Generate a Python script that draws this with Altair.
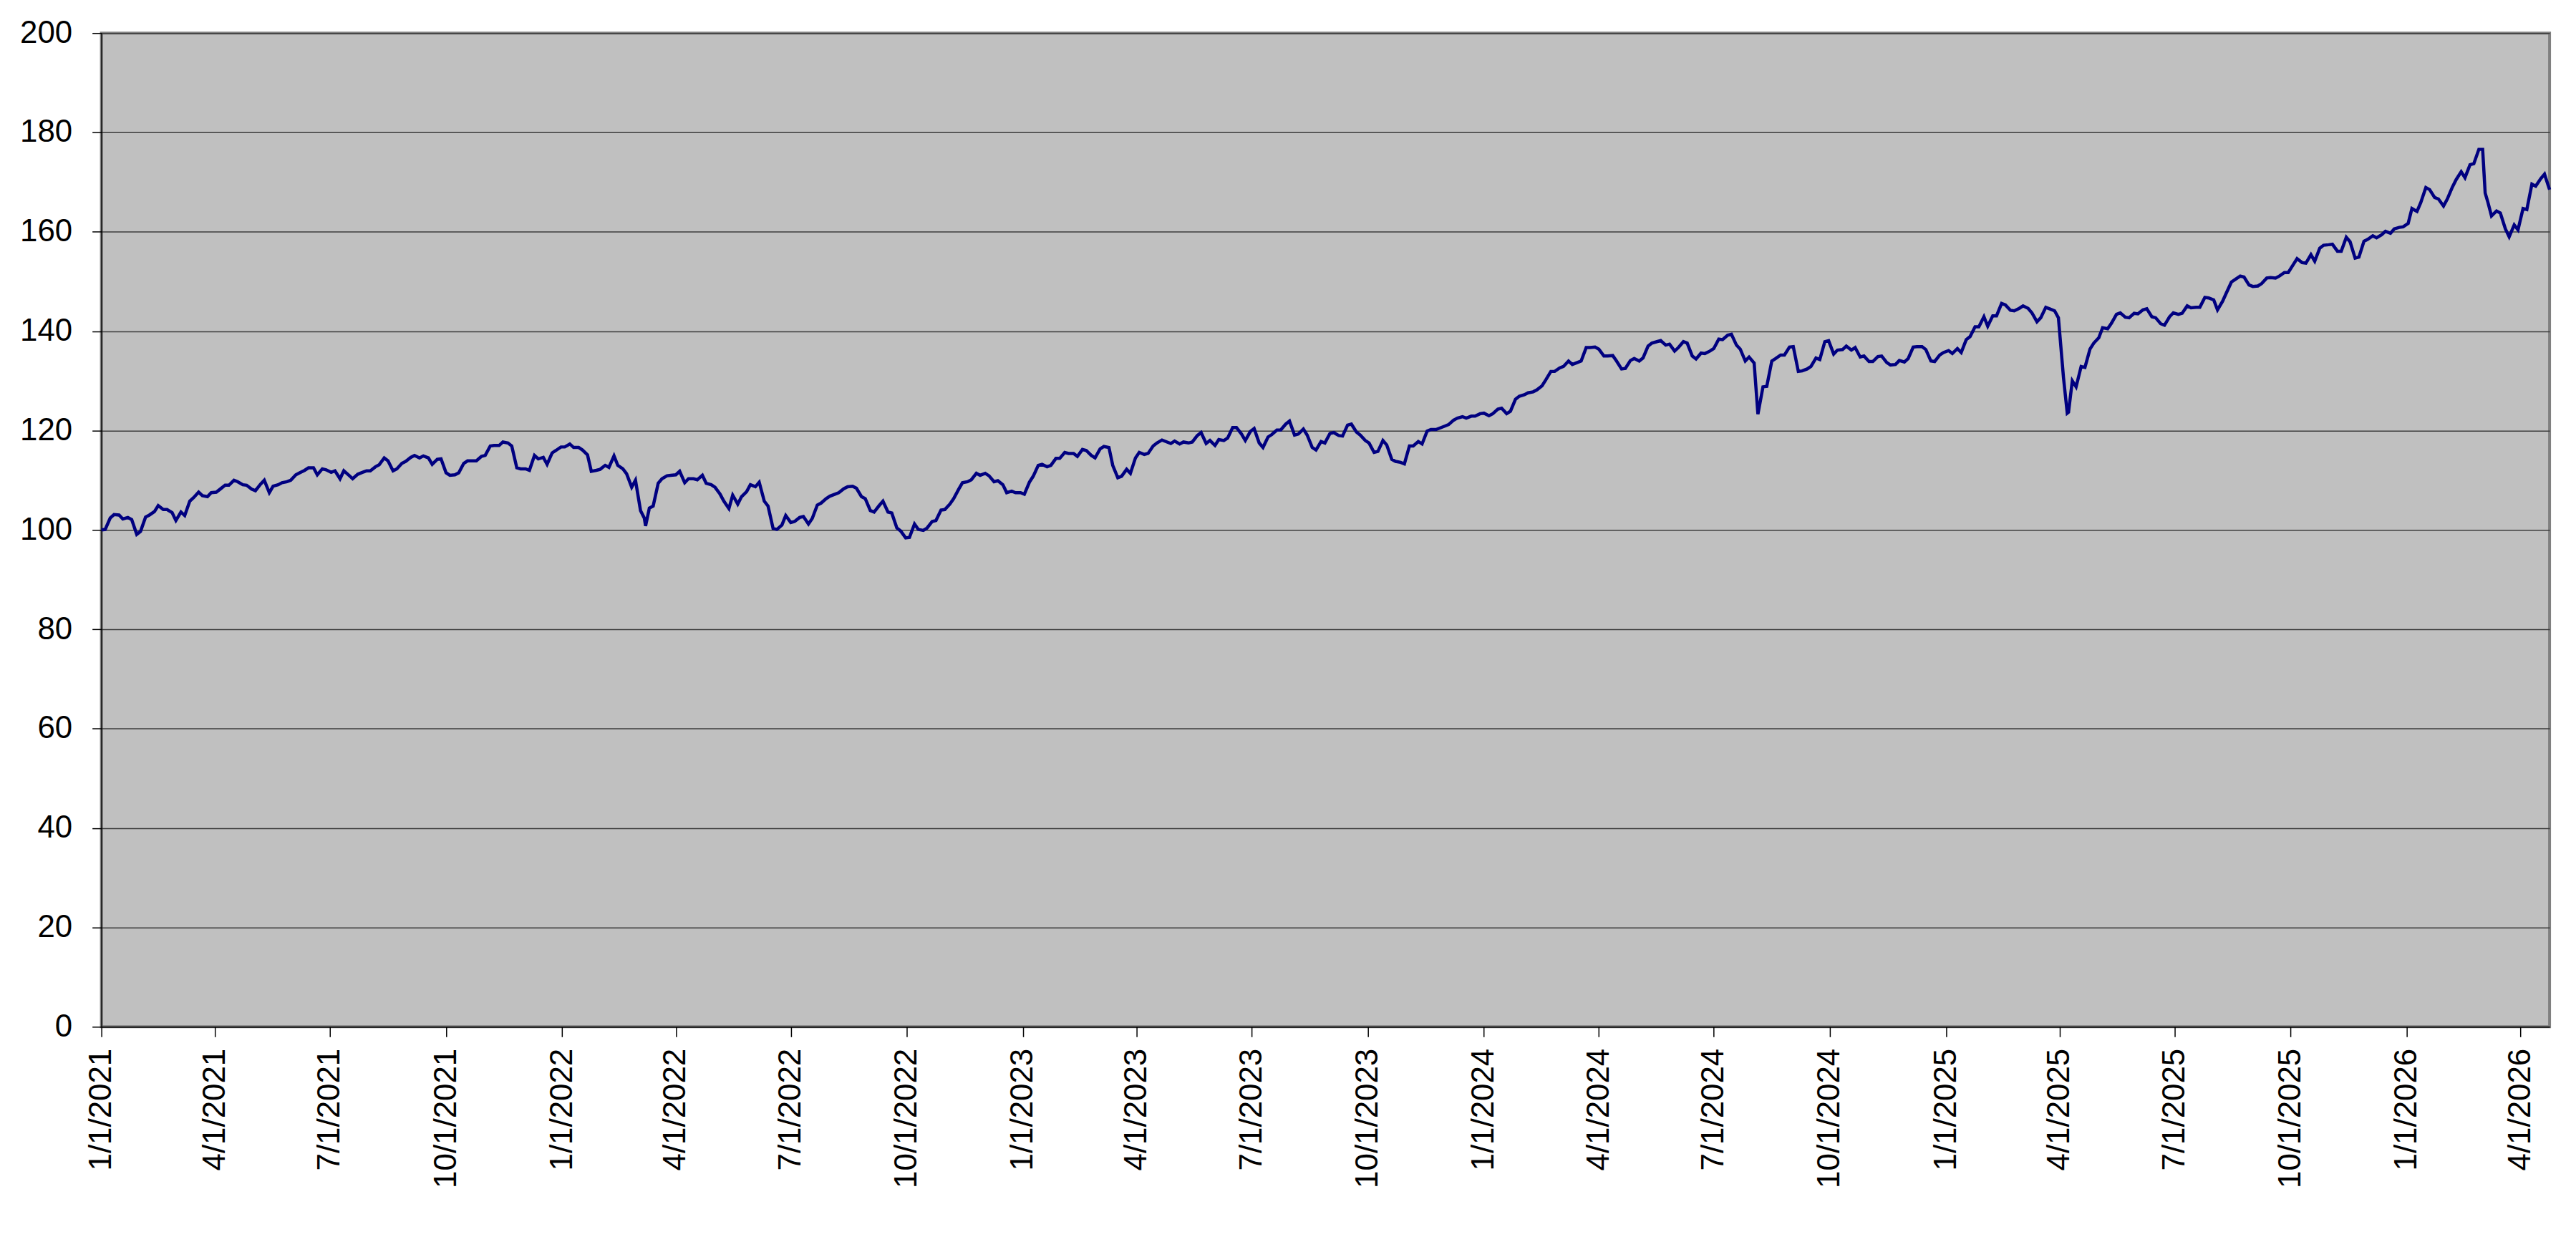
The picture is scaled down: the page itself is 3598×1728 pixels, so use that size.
import altair as alt
import pandas as pd

# readings every Friday, starting 2021-01-01
friday_start = "2021-01-01"
friday_values = [
    100.0, 102.4, 103.0, 102.5, 99.1, 102.6, 103.7, 104.1, 103.5, 103.6,
    105.8, 107.6, 106.7, 107.6, 109.0, 110.0, 109.1, 108.2, 109.2, 107.5,
    109.1, 109.7, 111.1, 112.0, 112.5, 112.3, 111.6, 110.3, 111.0, 111.2,
    111.9, 112.7, 114.5, 111.9, 113.4, 114.6, 114.5, 114.5, 114.2, 111.5,
    111.1, 113.4, 113.9, 114.8, 116.9, 117.0, 117.5, 112.5, 112.3, 115.0,
    114.6, 115.5, 116.7, 117.3, 116.6, 115.1, 112.0, 113.0, 114.9, 112.3,
    108.6, 103.9, 104.4, 109.4, 110.9, 111.1, 109.5, 110.3, 111.0, 109.1,
    107.2, 104.3, 105.2, 107.7, 108.7, 105.8, 100.3, 101.0, 101.5, 102.5,
    101.2, 105.0, 106.3, 107.2, 108.3, 108.8, 106.7, 103.9, 104.9, 103.6,
    100.4, 98.4, 101.2, 99.9, 101.7, 104.0, 105.2, 108.2, 109.7, 111.4,
    111.4, 109.7, 109.1, 107.8, 107.5, 109.6, 113.0, 112.7, 114.4, 115.6,
    115.4, 116.2, 115.0, 116.3, 116.6, 110.5, 112.2, 114.5, 115.2, 116.9,
    118.1, 117.4, 117.3, 117.5, 119.0, 117.4, 117.0, 118.0, 120.6, 119.3,
    119.8, 117.5, 118.7, 120.1, 121.3, 119.1, 120.3, 116.6, 117.8, 119.4,
    119.0, 121.1, 119.7, 118.0, 115.6, 118.0, 114.2, 113.6, 116.9, 117.8,
    119.9, 120.2, 120.9, 122.1, 122.8, 122.9, 123.4, 123.0, 124.3, 123.4,
    126.3, 127.2, 127.8, 129.0, 131.9, 132.6, 134.0, 133.7, 136.7, 136.8,
    135.0, 135.1, 132.4, 134.1, 134.0, 137.0, 137.9, 137.2, 136.0, 137.9,
    135.0, 135.6, 136.0, 138.4, 139.2, 137.2, 134.0, 133.6, 128.8, 134.0,
    135.2, 136.8, 131.9, 132.4, 134.6, 137.9, 135.4, 136.3, 136.2, 134.8,
    133.9, 134.9, 133.7, 133.3, 133.8, 136.8, 136.9, 134.0, 135.2, 136.1,
    136.5, 138.3, 140.9, 142.9, 143.1, 145.6, 144.2, 144.6, 144.6, 141.9,
    144.8, 144.1, 130.7, 130.0, 132.9, 136.4, 138.7, 140.5, 143.4, 142.8,
    143.6, 144.3, 142.9, 141.5, 142.9, 143.4, 145.1, 144.8, 146.8, 146.3,
    146.0, 149.9, 151.1, 149.3, 149.1, 150.7, 150.7, 151.8, 153.4, 153.8,
    155.4, 156.7, 157.4, 156.1, 158.9, 154.7, 158.1, 159.2, 159.4, 159.7,
    160.9, 161.7, 164.1, 168.9, 166.9, 165.2, 169.0, 172.1, 173.5, 176.6,
    166.1, 164.2, 160.6, 161.4, 164.7, 169.6, 170.7, 168.5,
]

# readings every Monday, starting 2021-01-04
monday_start = "2021-01-04"
monday_values = [
    100.1, 103.1, 102.2, 102.1, 99.7, 103.0, 104.9, 104.1, 101.9, 102.9,
    106.5, 106.9, 107.5, 108.2, 109.0, 109.7, 109.0, 107.9, 110.0, 108.8,
    109.5, 110.0, 111.5, 112.5, 111.1, 112.1, 111.9, 111.9, 110.3, 111.5,
    111.9, 113.1, 113.9, 112.3, 113.8, 115.0, 114.9, 113.2, 114.3, 111.0,
    111.5, 113.9, 113.9, 115.0, 117.0, 117.7, 116.9, 112.3, 112.0, 114.3,
    113.2, 116.0, 116.7, 116.6, 116.1, 111.8, 112.2, 112.6, 113.0, 111.3,
    110.0, 102.4, 104.8, 110.3, 111.0, 111.8, 110.3, 110.1, 109.4, 108.6,
    105.8, 107.0, 106.7, 109.1, 109.6, 104.8, 100.1, 102.9, 101.7, 102.7,
    102.3, 105.4, 106.8, 107.5, 108.7, 108.4, 106.3, 103.6, 105.8, 103.4,
    99.8, 98.5, 100.1, 100.4, 101.9, 104.1, 106.3, 109.5, 110.1, 111.0,
    110.9, 109.9, 107.5, 107.5, 107.2, 110.8, 113.2, 113.0, 114.4, 115.4,
    114.8, 116.0, 114.5, 116.8, 113.0, 110.8, 111.4, 115.6, 115.4, 117.5,
    117.8, 117.9, 117.7, 117.7, 119.6, 118.0, 118.2, 118.5, 120.6, 118.0,
    120.4, 116.6, 119.2, 120.1, 121.9, 119.3, 119.1, 116.1, 117.5, 119.6,
    118.9, 121.3, 119.1, 117.5, 115.8, 117.1, 113.8, 113.3, 116.9, 117.3,
    120.2, 120.5, 121.2, 122.5, 122.5, 122.9, 123.5, 123.4, 124.5, 123.9,
    126.9, 127.6, 128.2, 130.2, 131.9, 132.9, 133.3, 134.0, 136.7, 136.4,
    135.0, 134.0, 132.5, 134.5, 134.6, 137.6, 138.1, 137.4, 136.7, 137.6,
    134.4, 135.5, 136.5, 138.3, 139.4, 136.4, 134.8, 123.3, 128.9, 134.5,
    135.2, 136.9, 132.0, 132.9, 134.3, 138.1, 136.2, 137.0, 136.7, 135.0,
    133.9, 135.0, 133.2, 134.1, 134.5, 136.9, 136.3, 133.9, 135.7, 135.5,
    135.7, 138.9, 140.9, 141.0, 143.1, 145.3, 144.1, 145.1, 143.7, 142.7,
    144.5, 142.7, 123.5, 128.8, 132.7, 137.6, 140.7, 141.6, 143.7, 142.7,
    143.5, 144.5, 142.7, 141.2, 143.7, 143.6, 144.7, 144.8, 146.7, 144.3,
    147.7, 150.4, 150.9, 149.0, 149.6, 150.8, 151.1, 151.8, 154.6, 153.7,
    154.1, 157.3, 157.5, 156.1, 158.0, 154.9, 158.5, 158.8, 160.1, 160.6,
    161.0, 164.7, 165.9, 168.5, 166.6, 166.6, 170.5, 170.9, 173.7, 176.6,
    163.2, 163.8, 159.0, 160.4, 164.5, 169.2, 171.6,
]

# short-lived extremes read between the regular points
extra_dates = ["2022-03-08", "2025-04-08", "2026-03-04"]
extra_values = [100.8, 123.7, 167.8]

tick_labels = ["1/1/2021", "4/1/2021", "7/1/2021", "10/1/2021",
               "1/1/2022", "4/1/2022", "7/1/2022", "10/1/2022",
               "1/1/2023", "4/1/2023", "7/1/2023", "10/1/2023",
               "1/1/2024", "4/1/2024", "7/1/2024", "10/1/2024",
               "1/1/2025", "4/1/2025", "7/1/2025", "10/1/2025",
               "1/1/2026", "4/1/2026"]
y_ticks = [0, 20, 40, 60, 80, 100, 120, 140, 160, 180, 200]
x_end = "2026-04-24"

fri = pd.date_range(friday_start, periods=len(friday_values), freq="7D")
mon = pd.date_range(monday_start, periods=len(monday_values), freq="7D")
df = pd.DataFrame({
    "date": list(fri.strftime("%Y-%m-%dT00:00:00"))
    + list(mon.strftime("%Y-%m-%dT00:00:00"))
    + [d + "T00:00:00" for d in extra_dates],
    "value": friday_values + monday_values + extra_values,
}).sort_values("date")


def to_dt(s):
    m, d, y = (int(p) for p in s.split("/"))
    return alt.DateTime(year=y, month=m, date=d)


ex = pd.Timestamp(x_end)
x_domain = [to_dt("1/1/2021"), alt.DateTime(year=ex.year, month=ex.month, date=ex.day)]

chart = (
    alt.Chart(df)
    .mark_line(color="#000080", strokeWidth=4.5)
    .encode(
        x=alt.X(
            "date:T",
            scale=alt.Scale(domain=x_domain, nice=False),
            axis=alt.Axis(
                values=[to_dt(t) for t in tick_labels],
                format="%-m/%-d/%Y",
                labelAngle=270,
                title=None,
                grid=False,
                tickSize=14,
                labelPadding=16,
                labelOverlap=False,
                labelLimit=500,
            ),
        ),
        y=alt.Y(
            "value:Q",
            scale=alt.Scale(domain=[0, 200], nice=False),
            axis=alt.Axis(
                values=y_ticks,
                title=None,
                grid=True,
                tickSize=13,
                labelPadding=28,
            ),
        ),
    )
    .properties(width=3429, height=1392,
                padding={"left": 19, "top": 14, "right": 20, "bottom": 10})
    .configure_view(fill="#C0C0C0", stroke="#808080", strokeWidth=4)
    .configure_axis(
        labelFont="Liberation Sans",
        labelFontSize=44,
        labelColor="black",
        domainColor="black",
        domainWidth=1.5,
        tickColor="black",
        tickWidth=1.5,
        gridColor="#3c3c3c",
        gridWidth=1.5,
    )
)

chart.save("out.html", embed_options={"renderer": "svg", "actions": False})
